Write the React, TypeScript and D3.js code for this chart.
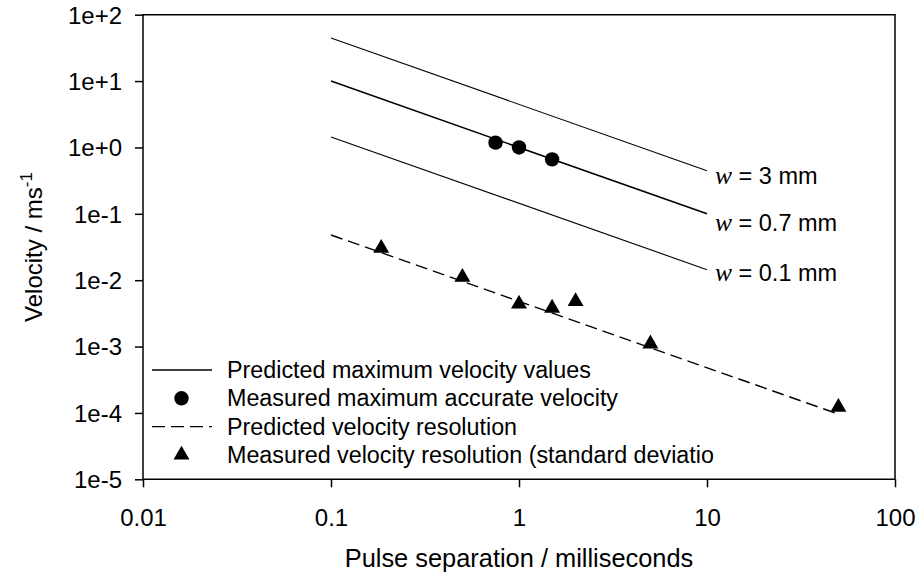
import { useEffect, useRef } from 'react'
import * as d3 from 'd3'

// separação de pulso (ms) para as retas previstas
const predictedPulse = [0.1, 10]
const predictedW3 = [44.6, 0.446]
const predictedW07 = [10, 0.1]
const predictedW01 = [1.44, 0.0144]
const lineLabels = ['3', '0.7', '0.1']

const resolutionPulse = [0.1, 50]
const resolutionValues = [0.048, 0.000096]

const measuredMaxPulse = [0.75, 1.0, 1.5]
const measuredMaxValues = [1.18, 1.0, 0.66]

const measuredResPulse = [0.185, 0.5, 1.0, 1.5, 2.0, 5.0, 50]
const measuredResValues = [0.0303, 0.0111, 0.0044, 0.0038, 0.0048, 0.0011, 0.000122]

const xTicks = [0.01, 0.1, 1, 10, 100]
const yTicks = [1e-5, 1e-4, 1e-3, 1e-2, 1e-1, 1e0, 1e1, 1e2]

const legendItems = [
  'Predicted maximum velocity values',
  'Measured maximum accurate velocity',
  'Predicted velocity resolution',
  'Measured velocity resolution (standard deviatio'
]

const FONT = 'Arial, "Liberation Sans", sans-serif'
const FS = 24

function App() {
  const svgRef = useRef<SVGSVGElement>(null)

  useEffect(() => {
    const width = 917
    const height = 576
    const svg = d3.select(svgRef.current)
    svg.selectAll('*').remove()
    svg.attr('width', width).attr('height', height)

    const left = 143, right = 895, top = 14.7, bottom = 479.3

    const x = d3.scaleLog().domain([0.01, 100]).range([left, right])
    const y = d3.scaleLog().domain([1e-5, 1e2]).range([bottom, top])

    // moldura
    svg.append('path')
      .attr('d', `M${left},${bottom}V${top}H${right}V${bottom}Z`)
      .attr('fill', 'none')
      .attr('stroke', '#000')
      .attr('stroke-width', 1.5)

    const xAxis = svg.append('g')
      .attr('transform', `translate(0,${bottom})`)
      .call(d3.axisBottom(x).tickValues(xTicks).tickFormat(d => String(d)).tickSize(8).tickPadding(22))
    const yAxis = svg.append('g')
      .attr('transform', `translate(${left},0)`)
      .call(d3.axisLeft(y).tickValues(yTicks).tickFormat(d3.format('.0e')).tickSize(8).tickPadding(13))

    ;[xAxis, yAxis].forEach(a => {
      a.select('.domain').remove()
      a.selectAll('line').attr('stroke', '#000').attr('stroke-width', 1.5)
      a.selectAll('text').attr('font-family', FONT).attr('font-size', FS).attr('fill', '#000')
    })
    yAxis.selectAll('text').attr('dy', '0.35em')

    const line = d3.line<[number, number]>().x(d => x(d[0])).y(d => y(d[1]))
    const g = svg.append('g')

    const labelDy = [5, 9, 3]
    const predicted = [predictedW3, predictedW07, predictedW01]
    predicted.forEach((vals, i) => {
      const pts = predictedPulse.map((p, j) => [p, vals[j]] as [number, number])
      g.append('path')
        .attr('d', line(pts))
        .attr('fill', 'none')
        .attr('stroke', '#000')
        .attr('stroke-width', i === 1 ? 1.6 : 1.1)

      const end = pts[pts.length - 1]
      const t = g.append('text')
        .attr('x', x(end[0]) + 8)
        .attr('y', y(end[1]) + labelDy[i])
        .attr('dy', '0.35em')
        .attr('font-family', FONT)
        .attr('font-size', 23.5)
      t.append('tspan')
        .attr('font-family', '"Liberation Serif", "Times New Roman", serif')
        .attr('font-style', 'italic')
        .attr('font-size', 25.5)
        .text('w')
      t.append('tspan').text(` = ${lineLabels[i]} mm`)
    })

    const resPts = resolutionPulse.map((p, j) => [p, resolutionValues[j]] as [number, number])
    g.append('path')
      .attr('d', line(resPts))
      .attr('fill', 'none')
      .attr('stroke', '#000')
      .attr('stroke-width', 1.4)
      .attr('stroke-dasharray', '12,6')

    g.selectAll('.circle')
      .data(measuredMaxPulse.map((p, j) => [p, measuredMaxValues[j]]))
      .enter()
      .append('circle')
      .attr('cx', d => x(d[0]))
      .attr('cy', d => y(d[1]))
      .attr('r', 7.2)
      .attr('fill', '#000')

    const tri = d3.symbol().type(d3.symbolTriangle).size(110)
    g.selectAll('.tri')
      .data(measuredResPulse.map((p, j) => [p, measuredResValues[j]]))
      .enter()
      .append('path')
      .attr('d', tri)
      .attr('transform', d => `translate(${x(d[0])},${y(d[1])})`)
      .attr('fill', '#000')

    // legenda
    const lg = svg.append('g')
    const rowY = (i: number) => 370 + i * 28.3
    legendItems.forEach((label, i) => {
      const cy = rowY(i)
      if (i === 0 || i === 2) {
        lg.append('line')
          .attr('x1', 152).attr('x2', 212)
          .attr('y1', cy).attr('y2', cy)
          .attr('stroke', '#000')
          .attr('stroke-width', 1.4)
          .attr('stroke-dasharray', i === 2 ? '13,6' : null)
      } else if (i === 1) {
        lg.append('circle').attr('cx', 181.5).attr('cy', cy).attr('r', 7.2).attr('fill', '#000')
      } else {
        lg.append('path').attr('d', tri).attr('transform', `translate(181.5,${cy})`).attr('fill', '#000')
      }
      lg.append('text')
        .attr('x', 227)
        .attr('y', cy)
        .attr('dy', '0.35em')
        .attr('font-family', FONT)
        .attr('font-size', 23.3)
        .text(label)
    })

    // títulos dos eixos
    svg.append('text')
      .attr('x', (left + right) / 2)
      .attr('y', 567)
      .attr('text-anchor', 'middle')
      .attr('font-family', FONT)
      .attr('font-size', 25.4)
      .text('Pulse separation / milliseconds')

    const yt = svg.append('text')
      .attr('transform', `translate(42,${(top + bottom) / 2}) rotate(-90)`)
      .attr('text-anchor', 'middle')
      .attr('font-family', FONT)
      .attr('font-size', FS)
    yt.append('tspan').text('Velocity / ms')
    yt.append('tspan').attr('dy', -10).attr('font-size', 17).text('-1')
  }, [])

  return (
    <svg ref={svgRef} style={{ position: 'absolute', left: 0, top: 0, background: '#fff' }}></svg>
  )
}

export default App
